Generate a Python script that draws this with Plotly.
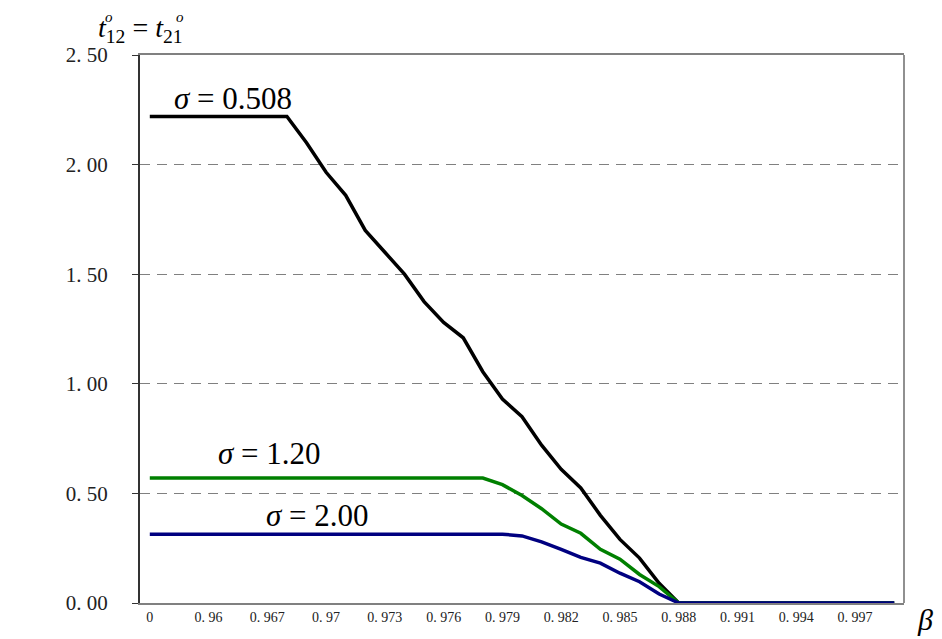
import plotly.graph_objects as go

beta = ["0.961", "0.962", "0.963", "0.964", "0.965", "0.966", "0.967", "0.968", "0.969", "0.970",
        "0.971", "0.972", "0.973", "0.974", "0.975", "0.976", "0.977", "0.978", "0.979", "0.980",
        "0.981", "0.982", "0.983", "0.984", "0.985", "0.986", "0.987", "0.988", "0.989", "0.990",
        "0.991", "0.992", "0.993", "0.994", "0.995", "0.996", "0.997", "0.998", "0.999"]

t_sigma_0508 = [2.22, 2.22, 2.22, 2.22, 2.22, 2.22, 2.22, 2.22, 2.10, 1.965,
                1.86, 1.70, 1.60, 1.50, 1.375, 1.28, 1.21, 1.055, 0.93, 0.85,
                0.72, 0.61, 0.525, 0.40, 0.29, 0.205, 0.09, 0.0, 0.0, 0.0,
                0.0, 0.0, 0.0, 0.0, 0.0, 0.0, 0.0, 0.0, 0.0]

t_sigma_120 = [0.57, 0.57, 0.57, 0.57, 0.57, 0.57, 0.57, 0.57, 0.57, 0.57,
               0.57, 0.57, 0.57, 0.57, 0.57, 0.57, 0.57, 0.57, 0.54, 0.49,
               0.43, 0.36, 0.318, 0.245, 0.20, 0.13, 0.075, 0.0, 0.0, 0.0,
               0.0, 0.0, 0.0, 0.0, 0.0, 0.0, 0.0, 0.0, 0.0]

t_sigma_200 = [0.314, 0.314, 0.314, 0.314, 0.314, 0.314, 0.314, 0.314, 0.314, 0.314,
               0.314, 0.314, 0.314, 0.314, 0.314, 0.314, 0.314, 0.314, 0.314, 0.306,
               0.279, 0.245, 0.208, 0.182, 0.136, 0.097, 0.041, 0.0, 0.0, 0.0,
               0.0, 0.0, 0.0, 0.0, 0.0, 0.0, 0.0, 0.0, 0.0]

x_tickvals = ["0.961", "0.964", "0.967", "0.970", "0.973", "0.976", "0.979",
              "0.982", "0.985", "0.988", "0.991", "0.994", "0.997"]
x_ticktext = ["0", "0. 96", "0. 967", "0. 97", "0. 973", "0. 976", "0. 979",
              "0. 982", "0. 985", "0. 988", "0. 991", "0. 994", "0. 997"]

y_tickvals = [0, 0.5, 1.0, 1.5, 2.0, 2.5]
y_ticktext = ["0. 00", "0. 50", "1. 00", "1. 50", "2. 00", "2. 50"]

serif = "Liberation Serif"

fig = go.Figure()
fig.add_trace(go.Scatter(x=beta, y=t_sigma_0508, mode="lines",
                         line=dict(color="#000000", width=3.5), name="σ=0.508"))
fig.add_trace(go.Scatter(x=beta, y=t_sigma_120, mode="lines",
                         line=dict(color="#008000", width=3.5), name="σ=1.20"))
fig.add_trace(go.Scatter(x=beta, y=t_sigma_200, mode="lines",
                         line=dict(color="#000080", width=3.5), name="σ=2.00"))

fig.update_layout(
    width=926, height=631,
    margin=dict(l=132, r=30, t=47, b=36),
    paper_bgcolor="white", plot_bgcolor="white",
    showlegend=False,
    font=dict(family=serif, color="black"),
)

fig.update_xaxes(
    type="category", automargin=False,
    categoryorder="array", categoryarray=beta,
    range=[-0.5, len(beta) - 0.5],
    tickmode="array", tickvals=x_tickvals, ticktext=x_ticktext,
    tickfont=dict(family=serif, size=14, color="#222222"),
    showgrid=False, showline=True, linecolor="#808080", linewidth=2,
    mirror=True, ticks="", zeroline=False,
)

fig.update_yaxes(
    range=[0, 2.5], automargin=False,
    tickmode="array", tickvals=y_tickvals, ticktext=y_ticktext,
    tickfont=dict(family=serif, size=21, color="#222222"),
    showgrid=True, gridcolor="#808080", griddash="10px,7px", gridwidth=1.2,
    showline=True, linecolor="#333333", linewidth=2,
    ticks="outside", ticklen=6, tickcolor="#333333", tickwidth=1,
    ticklabelstandoff=20, zeroline=False,
)

# right border
fig.add_shape(type="line", xref="paper", yref="paper", x0=1, x1=1, y0=0, y1=1,
              line=dict(color="#909090", width=2))

# axis titles
fig.add_annotation(xref="paper", yref="paper", x=1.027, y=-0.031, xanchor="center", yanchor="middle",
                   text="<i>β</i>", showarrow=False, font=dict(family=serif, size=30, color="black"))
fig.add_annotation(xref="paper", yref="paper", x=0.001, y=1.046, xanchor="center", yanchor="middle",
                   text="<i>t</i><sub>12</sub> = <i>t</i><sub>21</sub>", showarrow=False,
                   font=dict(family=serif, size=28, color="black"))
fig.add_annotation(xref="paper", yref="paper", x=-0.040, y=1.069, xanchor="center", yanchor="middle",
                   text="<i>o</i>", showarrow=False, font=dict(family=serif, size=15, color="black"))
fig.add_annotation(xref="paper", yref="paper", x=0.052, y=1.069, xanchor="center", yanchor="middle",
                   text="<i>o</i>", showarrow=False, font=dict(family=serif, size=15, color="black"))

# curve labels (x in category index units)
fig.add_annotation(x=4.23, y=2.30, xanchor="center", yanchor="middle",
                   text="<i>σ</i> = 0.508", showarrow=False, font=dict(family=serif, size=31, color="black"))
fig.add_annotation(x=6.1, y=0.68, xanchor="center", yanchor="middle",
                   text="<i>σ</i> = 1.20", showarrow=False, font=dict(family=serif, size=31, color="black"))
fig.add_annotation(x=8.57, y=0.40, xanchor="center", yanchor="middle",
                   text="<i>σ</i> = 2.00", showarrow=False, font=dict(family=serif, size=31, color="black"))

fig.write_html("out.html")
